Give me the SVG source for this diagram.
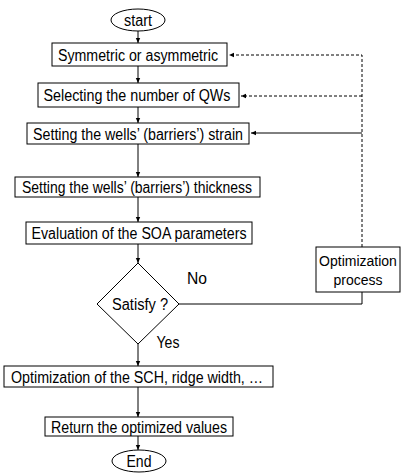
<svg xmlns="http://www.w3.org/2000/svg" width="402" height="476" viewBox="0 0 402 476">
<defs>
<marker id="ah" markerWidth="6" markerHeight="6" refX="5" refY="3" orient="auto" markerUnits="userSpaceOnUse">
<path d="M0,0.8 L5,3 L0,5.2 Z" fill="#000"/>
</marker>
</defs>
<style>
.n{fill:#fff;stroke:#000;stroke-width:1}
.t{font-family:"Liberation Sans",Arial,sans-serif;font-size:16px;fill:#000;text-anchor:middle}
.s{font-size:14px}
.c{fill:none;stroke:#000;stroke-width:1}
.d{stroke-dasharray:3,2}
</style>
<rect width="402" height="476" fill="#fff"/>
<g id="connectors">
<line class="c" x1="138" y1="31" x2="138" y2="43" marker-end="url(#ah)"/>
<line class="c" x1="138" y1="66" x2="138" y2="83" marker-end="url(#ah)"/>
<line class="c" x1="138" y1="107" x2="138" y2="123" marker-end="url(#ah)"/>
<line class="c" x1="138" y1="144" x2="138" y2="177" marker-end="url(#ah)"/>
<line class="c" x1="138" y1="197" x2="138" y2="222" marker-end="url(#ah)"/>
<line class="c" x1="138" y1="244" x2="138" y2="263" marker-end="url(#ah)"/>
<line class="c" x1="138" y1="344" x2="138" y2="366" marker-end="url(#ah)"/>
<line class="c" x1="138" y1="387" x2="138" y2="417" marker-end="url(#ah)"/>
<line class="c" x1="138" y1="436" x2="138" y2="450" marker-end="url(#ah)"/>
<polyline class="c" points="179,304 362,304 362,292"/>
<polyline class="c d" points="362,247 362,55 229,55" marker-end="url(#ah)"/>
<polyline class="c d" points="362,96 241,96" marker-end="url(#ah)"/>
<polyline class="c" points="362,133 251,133" marker-end="url(#ah)"/>
</g>
<g id="start">
<ellipse class="n" cx="138" cy="20" rx="27" ry="11"/>
<text class="t" x="138" y="25.5" textLength="28" lengthAdjust="spacingAndGlyphs">start</text>
</g>
<g id="symmetric">
<rect class="n" x="52" y="43" width="175" height="23"/>
<text class="t" x="138" y="60.5" textLength="160" lengthAdjust="spacingAndGlyphs">Symmetric or asymmetric</text>
</g>
<g id="selecting">
<rect class="n" x="38" y="83" width="201" height="24"/>
<text class="t" x="137" y="100.5" textLength="187" lengthAdjust="spacingAndGlyphs">Selecting the number of QWs</text>
</g>
<g id="strain">
<rect class="n" x="27" y="123" width="222" height="21"/>
<text class="t" x="138" y="139.5" textLength="210" lengthAdjust="spacingAndGlyphs">Setting the wells’ (barriers’) strain</text>
</g>
<g id="thickness">
<rect class="n" x="15" y="177" width="245" height="20"/>
<text class="t" x="137" y="192.5" textLength="230" lengthAdjust="spacingAndGlyphs">Setting the wells’ (barriers’) thickness</text>
</g>
<g id="evaluation">
<rect class="n" x="26" y="222" width="226" height="22"/>
<text class="t" x="139" y="238.5" textLength="215" lengthAdjust="spacingAndGlyphs">Evaluation of the SOA parameters</text>
</g>
<g id="satisfy">
<polygon class="n" points="138,263 179,304 138,344 97,304"/>
<text class="t" x="140" y="309.5" textLength="56" lengthAdjust="spacingAndGlyphs">Satisfy ?</text>
</g>
<g id="label-no"><text class="t" x="197" y="283.5" textLength="20" lengthAdjust="spacingAndGlyphs">No</text></g>
<g id="label-yes"><text class="t" x="168" y="347.5" textLength="23" lengthAdjust="spacingAndGlyphs">Yes</text></g>
<g id="optimization-process">
<rect class="n" x="316" y="247" width="84" height="45"/>
<text class="t s" x="358" y="265.5">Optimization</text>
<text class="t s" x="358" y="284.5">process</text>
</g>
<g id="optimization-sch">
<rect class="n" x="4" y="366" width="269" height="21"/>
<text class="t" x="137" y="382.5" textLength="252" lengthAdjust="spacingAndGlyphs">Optimization of the SCH, ridge width, …</text>
</g>
<g id="return">
<rect class="n" x="45" y="417" width="188" height="19"/>
<text class="t" x="139" y="432.5" textLength="176" lengthAdjust="spacingAndGlyphs">Return the optimized values</text>
</g>
<g id="end">
<ellipse class="n" cx="139" cy="461" rx="27" ry="11"/>
<text class="t" x="139" y="466.5" textLength="25" lengthAdjust="spacingAndGlyphs">End</text>
</g>
</svg>
